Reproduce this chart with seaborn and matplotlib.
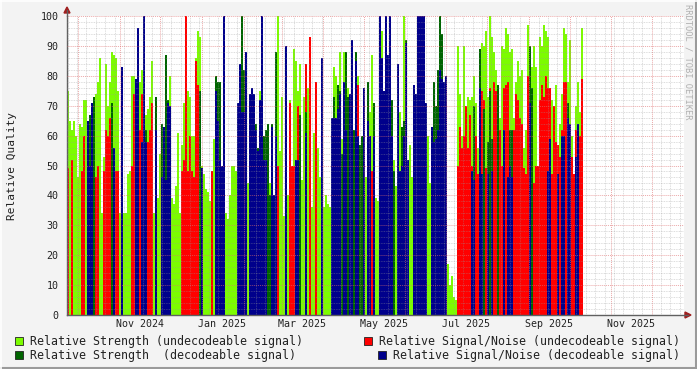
import pandas as pd
import matplotlib
matplotlib.use("Agg")
import matplotlib.pyplot as plt
import matplotlib.dates as mdates
from matplotlib.patches import Rectangle, Polygon
from matplotlib.lines import Line2D
from matplotlib.ticker import MultipleLocator, NullFormatter
import seaborn as sns

# sampling of the series (one bar per step)
START = "2024-09-22 14:00"
STEP = "2140min"

strength_undec = [
    75, 65, 62, 65, 60, 46, 64, 63, 72, 72, 0, 0, 0, 73, 74, 78, 86, 34, 53, 84,
    70, 78, 88, 87, 86, 75, 34, 40, 34, 34, 47, 48, 80, 80, 0, 0, 78, 82, 0, 67,
    69, 73, 85, 34, 72, 39, 54, 55, 0, 0, 0, 80, 39, 37, 43, 61, 34, 57, 71, 75,
    75, 73, 60, 60, 86, 95, 93, 50, 47, 42, 41, 38, 47, 59, 0, 0, 0, 50, 0, 34,
    32, 40, 50, 50, 48, 0, 0, 0, 0, 0, 44, 0, 0, 0, 0, 55, 75, 0, 0, 0,
    37, 44, 0, 33, 0, 100, 55, 73, 33, 0, 40, 72, 50, 89, 85, 75, 84, 45, 73, 65,
    76, 52, 36, 61, 57, 56, 46, 0, 36, 40, 37, 36, 65, 83, 80, 0, 88, 59, 88, 62,
    76, 34, 0, 45, 0, 80, 56, 0, 60, 46, 0, 68, 87, 0, 39, 38, 0, 95, 0, 0,
    0, 0, 0, 52, 43, 0, 68, 62, 100, 0, 52, 57, 46, 0, 0, 0, 0, 0, 0, 0,
    60, 44, 50, 0, 0, 68, 0, 0, 0, 0, 17, 10, 13, 6, 5, 90, 74, 60, 90, 68,
    73, 72, 73, 80, 71, 56, 89, 91, 90, 95, 73, 100, 93, 88, 82, 77, 66, 90, 89, 96,
    94, 88, 89, 66, 78, 85, 80, 82, 56, 62, 97, 62, 83, 90, 83, 50, 93, 90, 97, 95,
    93, 71, 72, 62, 77, 50, 64, 74, 96, 94, 78, 92, 60, 47, 70, 78, 68, 96,
]
snr_undec = [
    49, 0, 52, 0, 0, 0, 0, 48, 60, 0, 0, 0, 0, 0, 46, 50, 0, 0, 48, 62,
    60, 66, 60, 48, 48, 48, 0, 0, 0, 0, 0, 0, 50, 74, 0, 0, 62, 74, 0, 0,
    58, 62, 71, 0, 0, 0, 0, 0, 0, 0, 0, 0, 0, 0, 0, 0, 0, 48, 52, 100,
    48, 60, 48, 46, 85, 77, 0, 0, 0, 0, 0, 0, 48, 0, 0, 0, 0, 0, 0, 0,
    0, 0, 0, 0, 0, 0, 0, 0, 0, 0, 0, 0, 0, 0, 0, 0, 0, 0, 0, 0,
    0, 0, 0, 0, 0, 50, 0, 0, 0, 0, 0, 71, 50, 50, 48, 70, 47, 0, 0, 84,
    0, 93, 0, 0, 78, 0, 0, 0, 0, 0, 0, 0, 0, 0, 0, 0, 0, 47, 0, 0,
    0, 0, 0, 0, 0, 77, 49, 0, 0, 0, 0, 0, 48, 0, 0, 0, 0, 0, 0, 0,
    0, 0, 0, 0, 0, 0, 48, 0, 0, 0, 0, 0, 0, 0, 0, 0, 0, 0, 0, 0,
    0, 0, 0, 0, 0, 0, 0, 0, 0, 0, 0, 0, 0, 0, 0, 50, 63, 56, 60, 70,
    56, 67, 50, 0, 60, 47, 0, 75, 72, 49, 58, 76, 0, 78, 75, 70, 62, 50, 76, 77,
    78, 0, 0, 62, 74, 72, 66, 64, 49, 47, 80, 0, 68, 44, 50, 50, 72, 77, 73, 80,
    76, 76, 47, 70, 58, 57, 53, 62, 78, 78, 66, 62, 53, 47, 62, 62, 60, 79,
]
strength_dec = [
    0, 0, 0, 0, 0, 0, 0, 0, 0, 0, 45, 67, 45, 73, 0, 0, 0, 0, 0, 0,
    0, 0, 71, 0, 0, 0, 0, 0, 0, 0, 0, 0, 0, 0, 51, 0, 0, 0, 62, 62,
    0, 0, 0, 0, 73, 0, 0, 64, 60, 87, 72, 0, 0, 0, 0, 0, 0, 0, 0, 0,
    0, 0, 0, 0, 0, 0, 75, 0, 0, 0, 0, 0, 0, 0, 80, 78, 78, 48, 0, 0,
    0, 0, 0, 0, 0, 70, 41, 100, 82, 60, 0, 68, 60, 62, 64, 56, 0, 62, 60, 62,
    64, 40, 64, 0, 88, 0, 0, 0, 0, 47, 0, 0, 0, 0, 0, 0, 67, 0, 0, 68,
    0, 0, 0, 0, 0, 0, 0, 0, 0, 0, 0, 0, 0, 73, 65, 77, 75, 54, 0, 88,
    73, 0, 73, 62, 88, 0, 57, 60, 0, 0, 78, 0, 0, 71, 0, 0, 50, 80, 71, 72,
    63, 60, 72, 48, 0, 48, 0, 63, 65, 92, 0, 0, 0, 50, 49, 70, 70, 67, 70, 62,
    0, 0, 0, 78, 70, 82, 100, 94, 68, 64, 0, 0, 0, 0, 0, 0, 0, 0, 0, 0,
    0, 0, 0, 70, 0, 0, 89, 0, 69, 0, 58, 75, 59, 0, 0, 77, 0, 0, 0, 0,
    0, 62, 62, 0, 0, 0, 0, 0, 0, 0, 0, 90, 76, 0, 0, 0, 0, 0, 0, 0,
    0, 0, 0, 0, 0, 0, 0, 0, 0, 0, 71, 0, 0, 0, 0, 0, 0, 0,
]
snr_dec = [
    0, 0, 0, 0, 0, 0, 0, 0, 0, 0, 65, 50, 71, 0, 0, 0, 0, 0, 0, 0,
    0, 0, 0, 56, 0, 0, 0, 83, 0, 0, 0, 0, 0, 0, 79, 96, 0, 58, 100, 58,
    0, 0, 0, 0, 62, 0, 0, 46, 63, 45, 71, 70, 0, 0, 0, 0, 0, 0, 0, 0,
    0, 0, 0, 0, 0, 0, 0, 49, 0, 0, 0, 0, 0, 0, 75, 65, 52, 50, 100, 0,
    0, 0, 0, 0, 0, 71, 84, 68, 68, 88, 0, 74, 76, 74, 62, 55, 72, 100, 52, 52,
    0, 0, 63, 40, 60, 0, 0, 0, 0, 90, 0, 0, 0, 0, 52, 52, 0, 0, 0, 61,
    0, 0, 0, 0, 0, 0, 0, 86, 0, 0, 0, 0, 66, 66, 66, 69, 74, 0, 78, 62,
    0, 74, 92, 0, 85, 60, 0, 0, 76, 0, 65, 60, 0, 60, 0, 0, 100, 86, 75, 100,
    87, 100, 60, 0, 0, 84, 48, 50, 60, 91, 52, 0, 0, 77, 74, 100, 100, 100, 100, 71,
    0, 0, 63, 58, 59, 62, 82, 79, 78, 80, 0, 0, 0, 0, 0, 0, 0, 0, 0, 0,
    0, 0, 48, 45, 0, 0, 76, 47, 0, 0, 47, 0, 48, 0, 0, 0, 0, 0, 62, 0,
    46, 50, 46, 0, 0, 0, 0, 0, 0, 0, 0, 71, 0, 0, 0, 0, 0, 0, 0, 0,
    48, 59, 0, 0, 0, 47, 0, 60, 60, 0, 66, 64, 0, 0, 53, 64, 0, 0,
]

series_names = [
    "Relative Strength (undecodeable signal)",
    "Relative Signal/Noise (undecodeable signal)",
    "Relative Strength  (decodeable signal)",
    "Relative Signal/Noise (decodeable signal)",
]
series_colors = ["#7cfc00", "#ff0000", "#006400", "#00008b"]

x_labels = ["Nov 2024", "Jan 2025", "Mar 2025", "May 2025", "Jul 2025", "Sep 2025", "Nov 2025"]
x_label_dates = ["2024-11-16", "2025-01-16", "2025-03-16", "2025-05-16",
                 "2025-07-16", "2025-09-16", "2025-11-16"]

W, H = 697, 369
L, R, T, B = 67, 684, 16, 315

sns.set_theme(style="white")
plt.rcParams["font.family"] = ["DejaVu Sans Mono"]

df = pd.DataFrame(
    {
        series_names[0]: strength_undec,
        series_names[1]: snr_undec,
        series_names[2]: strength_dec,
        series_names[3]: snr_dec,
    },
    index=pd.date_range(START, periods=len(strength_undec), freq=STEP),
)
step_days = pd.Timedelta(STEP) / pd.Timedelta("1D")

fig = plt.figure(figsize=(W / 100, H / 100), dpi=100, facecolor="#f3f3f3")
ax = fig.add_axes([L / W, 1 - B / H, (R - L) / W, (B - T) / H])
ax.set_facecolor("white")

# draw order as in rrdtool: later areas cover earlier ones
for name, color in zip(series_names, series_colors):
    ax.bar(df.index, df[name], width=step_days, align="edge", color=color,
           linewidth=0, antialiased=False, zorder=1)

px_per_day = 2 / step_days
x0 = pd.Timestamp(START)
ax.set_xlim(x0, x0 + pd.Timedelta(days=(R - L) / px_per_day))
ax.set_ylim(0, 100)

# grid on top of the areas
ax.set_axisbelow(False)
ax.xaxis.set_major_locator(mdates.MonthLocator())
ax.xaxis.set_minor_locator(mdates.WeekdayLocator(byweekday=mdates.MO))
ax.xaxis.set_major_formatter(NullFormatter())
ax.yaxis.set_major_locator(MultipleLocator(10))
ax.yaxis.set_minor_locator(MultipleLocator(2))
ax.grid(which="minor", color="#9a9a9a", alpha=0.45, linestyle=(0, (1, 1)), linewidth=0.6)
ax.grid(which="major", color="#e07070", alpha=0.6, linestyle=(0, (1, 1)), linewidth=0.7)

ax.tick_params(axis="x", which="major", length=3, color="#e07070", width=0.8, pad=0)
ax.tick_params(axis="x", which="minor", length=2, color="#a0a0a0", width=0.6)
ax.tick_params(axis="y", which="major", length=3, color="#e07070", width=0.8,
               pad=3, labelsize=7.2, labelcolor="#222222")
ax.tick_params(axis="y", which="minor", length=2, color="#a0a0a0", width=0.6)

for side in ["top", "right"]:
    ax.spines[side].set_visible(False)
for side in ["left", "bottom"]:
    ax.spines[side].set_color("#606060")
    ax.spines[side].set_linewidth(1.0)

for lab, d in zip(x_labels, x_label_dates):
    ax.text(pd.Timestamp(d), -9 / (B - T), lab, transform=ax.get_xaxis_transform(),
            ha="center", va="center", fontsize=7.2, color="#222222")


def fx(px):
    return px / W


def fy(py):
    return 1 - py / H


# axis extensions and arrow heads
fig.add_artist(Line2D([fx(R), fx(688)], [fy(B), fy(B)], color="#606060", lw=1.0))
fig.add_artist(Polygon([[fx(685), fy(B - 3)], [fx(685), fy(B + 3)], [fx(691), fy(B)]],
                       closed=True, color="#a02020", transform=fig.transFigure))
fig.add_artist(Line2D([fx(L), fx(L)], [fy(T), fy(10)], color="#606060", lw=1.0))
fig.add_artist(Polygon([[fx(L - 3), fy(13)], [fx(L + 3), fy(13)], [fx(L), fy(7)]],
                       closed=True, color="#a02020", transform=fig.transFigure))

fig.text(fx(12), fy(166), "Relative Quality", rotation=90, ha="center", va="center",
         fontsize=8, color="#222222")
fig.text(fx(688), fy(4), "RRDTOOL / TOBI OETIKER", rotation=270, ha="center", va="top",
         fontsize=6.3, color="#b0b0b0")

# legend, two columns, right column right-aligned
leg_fs = 8.4
char_px = 0.602 * leg_fs * 100 / 72
rows = [341, 355]
for i, (name, color) in enumerate(zip(series_names, series_colors)):
    row = rows[i // 2]
    if i % 2 == 0:
        sq_x = 15
        fig.text(fx(30), fy(row), name, ha="left", va="center", fontsize=leg_fs, color="#222222")
    else:
        fig.text(fx(680), fy(row), name, ha="right", va="center", fontsize=leg_fs, color="#222222")
        sq_x = 680 - len(name) * char_px - 14
    fig.add_artist(Rectangle((fx(sq_x), fy(row + 4)), 8 / W, 8 / H, facecolor=color,
                             edgecolor="#222222", linewidth=0.6, transform=fig.transFigure))

# 3d-ish canvas border
fig.add_artist(Line2D([0, 1], [fy(367.5), fy(367.5)], color="#9a9a9a", lw=1.5))
fig.add_artist(Line2D([fx(695.5), fx(695.5)], [0, 1], color="#9a9a9a", lw=1.5))
fig.add_artist(Line2D([0, 1], [fy(0.5), fy(0.5)], color="#ffffff", lw=1.2))
fig.add_artist(Line2D([fx(0.5), fx(0.5)], [0, 1], color="#ffffff", lw=1.2))

fig.savefig("out.png", dpi=100, facecolor=fig.get_facecolor())
